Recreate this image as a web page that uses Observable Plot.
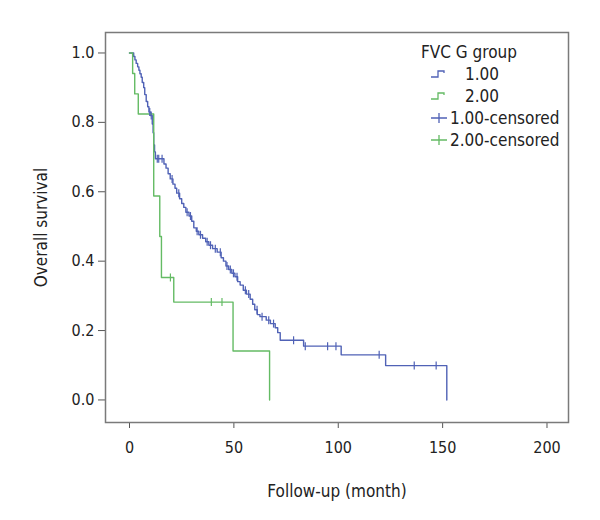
<!DOCTYPE html>
<html>
<head>
<meta charset="utf-8">
<script src="https://cdn.jsdelivr.net/npm/d3@7"></script>
<script src="https://cdn.jsdelivr.net/npm/@observablehq/plot@0.6"></script>
<style>
  html, body { margin: 0; padding: 0; background: #fff; }
  #wrap { position: relative; width: 600px; height: 520px; }
  #legend { position: absolute; left: 0; top: 0; }
</style>
</head>
<body>
<div id="wrap"></div>
<script>
// ---- data ----
const groups = ["1.00", "2.00"];
const colors = ["#5062b6", "#64bb64"];

// Group 1.00: event times (months) and survival after each step
const blueTime = [0, 2.0, 2.6, 3.2, 3.9, 4.5, 5.0, 5.6, 6.1, 6.8, 7.3, 8.0, 8.7, 9.3, 10.0, 10.9, 11.3, 11.6, 12.0, 12.4,
  16.5, 17.5, 18.5, 19.5, 20.8, 21.8, 22.6, 24.0, 25.0, 26.0, 27.0, 28.5, 29.8, 30.8, 32.0, 33.2, 35.0, 36.5, 38.0, 39.8,
  42.0, 43.9, 45.0, 46.2, 47.5, 49.0, 50.5, 51.8, 53.0, 54.5, 56.0, 57.8, 59.0, 60.0, 61.2, 62.5, 65.5, 67.5, 69.8, 71.0,
  72.2, 83.4, 101.4, 122.7, 152.0];
const blueSurv = [1.0, 0.99, 0.98, 0.97, 0.96, 0.95, 0.94, 0.93, 0.915, 0.90, 0.88, 0.86, 0.845, 0.83, 0.82, 0.795, 0.77, 0.735, 0.715, 0.695,
  0.68, 0.668, 0.652, 0.637, 0.622, 0.61, 0.596, 0.58, 0.566, 0.555, 0.541, 0.53, 0.515, 0.496, 0.486, 0.476, 0.466, 0.456, 0.446, 0.436,
  0.426, 0.41, 0.40, 0.386, 0.376, 0.365, 0.355, 0.341, 0.331, 0.316, 0.305, 0.29, 0.276, 0.26, 0.246, 0.24, 0.23, 0.22, 0.208, 0.194,
  0.172, 0.155, 0.13, 0.099, 0.0];
const blueCensor = [9.7, 10.4, 13.3, 14.0, 15.6, 20.4, 23.6, 27.6, 29.2, 32.4, 34.0, 37.2, 38.8, 41.1, 43.5, 46.7, 48.3, 49.8,
  51.5, 55.5, 57.1, 61.1, 63.5, 66.7, 69.0, 78.6, 84.2, 94.9, 98.9, 119.6, 136.4, 146.9];

// Group 2.00
const greenTime = [0, 1.5, 2.5, 4.2, 11.6, 14.5, 15.3, 21.2, 49.6, 67.1];
const greenSurv = [1.0, 0.941, 0.882, 0.824, 0.588, 0.471, 0.353, 0.282, 0.141, 0.0];
const greenCensor = [19.6, 39.2, 44.3];

const xTicks = [0, 50, 100, 150, 200];
const yTicks = [0.0, 0.2, 0.4, 0.6, 0.8, 1.0];
const xTitle = "Follow-up (month)";
const yTitle = "Overall survival";
const legendTitle = "FVC G group";
const legendLabels = ["1.00", "2.00", "1.00-censored", "2.00-censored"];

// ---- build tables ----
const curves = [
  ...blueTime.map((t, i) => ({group: groups[0], t, s: blueSurv[i]})),
  ...greenTime.map((t, i) => ({group: groups[1], t, s: greenSurv[i]}))
];
function survAt(times, surv, t) {
  let s = surv[0];
  for (let i = 0; i < times.length; i++) if (times[i] <= t) s = surv[i];
  return s;
}
const censors = [
  ...blueCensor.map(t => ({group: groups[0], t, s: survAt(blueTime, blueSurv, t)})),
  ...greenCensor.map(t => ({group: groups[1], t, s: survAt(greenTime, greenSurv, t)}))
];

const vtick = { draw(ctx, size) { const r = Math.sqrt(size / Math.PI); ctx.moveTo(0, -r); ctx.lineTo(0, r); } };

const font = "'Liberation Sans Narrow', 'DejaVu Sans Condensed', 'Roboto', sans-serif";

const plot = Plot.plot({
  width: 600,
  height: 520,
  marginLeft: 105,
  marginRight: 32,
  marginTop: 32,
  marginBottom: 98,
  style: {fontFamily: font, fontSize: "16px", color: "#222", background: "#fff"},
  x: {domain: [-11.5, 210.3]},
  y: {domain: [-0.065, 1.059]},
  color: {domain: groups, range: colors},
  marks: [
    Plot.axisX({ticks: xTicks, tickSize: 6, tickPadding: 13, tickFormat: d => String(d), stroke: "#555", label: null}),
    Plot.axisX({ticks: [], label: xTitle, labelAnchor: "center", labelOffset: 74, labelArrow: "none", fontSize: 17}),
    Plot.axisY({ticks: yTicks, tickSize: 7, tickPadding: 4, tickFormat: d3.format(".1f"), stroke: "#555", label: null}),
    Plot.axisY({ticks: [], label: yTitle, labelAnchor: "center", labelOffset: 71, labelArrow: "none", fontSize: 17}),
    Plot.line(curves, {x: "t", y: "s", z: "group", stroke: "group", curve: "step-after", strokeWidth: 1.4}),
    Plot.dot(censors, {x: "t", y: "s", stroke: "group", symbol: vtick, r: 4, strokeWidth: 1.2}),
    Plot.frame({stroke: "#7a7a7a", strokeWidth: 1.5})
  ]
});
document.getElementById("wrap").appendChild(plot);

// ---- legend (top-right, inside the frame) ----
const leg = d3.select("#wrap").append("svg").attr("id", "legend")
  .attr("width", 600).attr("height", 520)
  .style("font-family", font).style("font-size", "17px");
leg.append("text").attr("x", 421).attr("y", 58).attr("fill", "#222").text(legendTitle);
const rowY = [74, 96, 118, 140];
[0, 1].forEach(i => {
  const y = rowY[i];
  leg.append("path")
    .attr("d", `M431,${y + 3}H438V${y - 3}H444V${y - 1}`)
    .attr("fill", "none").attr("stroke", colors[i]).attr("stroke-width", 1.3);
  leg.append("text").attr("x", 465).attr("y", y + 6).attr("fill", "#222").text(legendLabels[i]);
});
[0, 1].forEach(i => {
  const y = rowY[i + 2];
  leg.append("path")
    .attr("d", `M431,${y}H447M439,${y - 5}V${y + 5}`)
    .attr("fill", "none").attr("stroke", colors[i]).attr("stroke-width", 1.3);
  leg.append("text").attr("x", 450).attr("y", y + 6).attr("fill", "#222").text(legendLabels[i + 2]);
});
</script>
</body>
</html>
